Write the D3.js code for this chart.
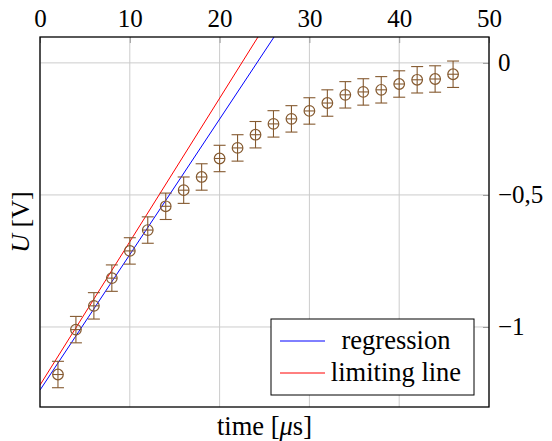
<!DOCTYPE html>
<html>
<head>
<meta charset="utf-8">
<script src="https://cdn.jsdelivr.net/npm/d3@7"></script>
</head>
<body style="margin:0">
<svg id="chart" width="552" height="441" font-family="Liberation Serif"></svg>
<script>
// measured points (time in us, voltage in V)
var times = [2, 4, 6, 8, 10, 12, 14, 16, 18, 20, 22, 24, 26, 28, 30, 32, 34, 36, 38, 40, 42, 44, 46];
var volts = [-1.18, -1.01, -0.92, -0.815, -0.712, -0.633, -0.543, -0.482, -0.432, -0.362, -0.322,
             -0.272, -0.231, -0.212, -0.182, -0.152, -0.121, -0.11, -0.102, -0.08, -0.064, -0.061, -0.043];
var errors = [0.05, 0.05, 0.05, 0.05, 0.05, 0.05, 0.05, 0.05, 0.05, 0.05, 0.05, 0.05,
              0.05, 0.05, 0.05, 0.05, 0.05, 0.05, 0.05, 0.05, 0.05, 0.05, 0.05];
// fit lines: intercept + slope * t
var regression = {intercept: -1.239, slope: 0.0513};
var limiting = {intercept: -1.22, slope: 0.0543};
var xTicks = [0, 10, 20, 30, 40, 50];
var yTicks = [-1, -0.5, 0];
var legendNames = ["regression", "limiting line"];
var legendColors = ["#0000ff", "#ff0000"];

var serif = "Liberation Serif";
var margin = {top: 37, right: 63, bottom: 34, left: 40};
var svg = d3.select("#chart");
var width = 552 - margin.left - margin.right;
var height = 441 - margin.top - margin.bottom;

var x = d3.scaleLinear().domain([0, 50]).range([0, width]);
var y = d3.scaleLinear().domain([-1.303, 0.098]).range([height, 0]);

var g = svg.append("g").attr("transform", "translate(" + margin.left + "," + margin.top + ")");

g.append("defs").append("clipPath").attr("id", "clip")
  .append("rect").attr("width", width).attr("height", height);

// grid
g.selectAll(".gx").data(xTicks).enter().append("line")
  .attr("x1", d => x(d)).attr("x2", d => x(d))
  .attr("y1", 0).attr("y2", height)
  .attr("stroke", "#cccccc").attr("stroke-width", 1);
g.selectAll(".gy").data(yTicks).enter().append("line")
  .attr("x1", 0).attr("x2", width)
  .attr("y1", d => y(d)).attr("y2", d => y(d))
  .attr("stroke", "#cccccc").attr("stroke-width", 1);

// axes (ticks inward)
var fmt = d => d3.format("")(d).replace("-", "\u2212").replace(".", ",");
var topAxis = g.append("g")
  .call(d3.axisTop(x).tickValues(xTicks).tickSize(-6).tickPadding(14).tickFormat(d3.format("d")));
var rightAxis = g.append("g").attr("transform", "translate(" + width + ",0)")
  .call(d3.axisRight(y).tickValues(yTicks).tickSize(-6).tickPadding(14).tickFormat(fmt));
[topAxis, rightAxis].forEach(function(a) {
  a.attr("font-family", serif).attr("font-size", 25);
  a.select(".domain").remove();
  a.selectAll(".tick line").attr("stroke", "#999999");
  a.selectAll(".tick text").attr("fill", "#000").attr("font-family", serif);
});
rightAxis.selectAll(".tick text").attr("x", 9);
topAxis.selectAll(".tick text").attr("y", -10);

// fit lines
var plot = g.append("g").attr("clip-path", "url(#clip)");
[regression, limiting].forEach(function(f, i) {
  plot.append("line")
    .attr("x1", x(0)).attr("y1", y(f.intercept))
    .attr("x2", x(50)).attr("y2", y(f.intercept + f.slope * 50))
    .attr("stroke", legendColors[i]).attr("stroke-width", 1);
});

// data with error bars
var brown = "#855a30";
var pts = plot.selectAll(".pt").data(times).enter().append("g")
  .attr("transform", (d, i) => "translate(" + x(d) + "," + y(volts[i]) + ")");
pts.append("line").attr("x1", 0).attr("x2", 0)
  .attr("y1", (d, i) => y(volts[i] + errors[i]) - y(volts[i]))
  .attr("y2", (d, i) => y(volts[i] - errors[i]) - y(volts[i]))
  .attr("stroke", brown).attr("stroke-width", 1.1);
[1, -1].forEach(function(s) {
  pts.append("line").attr("x1", -6).attr("x2", 6)
    .attr("y1", (d, i) => y(volts[i] + s * errors[i]) - y(volts[i]))
    .attr("y2", (d, i) => y(volts[i] + s * errors[i]) - y(volts[i]))
    .attr("stroke", brown).attr("stroke-width", 1.1);
});
pts.append("circle").attr("r", 5.3).attr("fill", "none").attr("stroke", brown).attr("stroke-width", 1.2);
pts.append("line").attr("x1", -5.3).attr("x2", 5.3).attr("y1", 0).attr("y2", 0)
  .attr("stroke", brown).attr("stroke-width", 1.1);

// frame
g.append("rect").attr("width", width).attr("height", height)
  .attr("fill", "none").attr("stroke", "#000").attr("stroke-width", 1.3);

// legend
var lg = g.append("g").attr("transform", "translate(" + (width - 218) + "," + (height - 88) + ")");
lg.append("rect").attr("width", 203).attr("height", 76)
  .attr("fill", "#fff").attr("stroke", "#000").attr("stroke-width", 1);
legendNames.forEach(function(n, i) {
  var cy = 22 + i * 32;
  lg.append("line").attr("x1", 9).attr("x2", 54).attr("y1", cy).attr("y2", cy)
    .attr("stroke", legendColors[i]).attr("stroke-width", 1);
  lg.append("text").attr("x", 125).attr("y", cy + 7.5).attr("text-anchor", "middle")
    .attr("font-size", 26.5).attr("font-family", serif).text(n);
});

// axis labels
svg.append("text").attr("x", margin.left + width / 2).attr("y", 435)
  .attr("text-anchor", "middle").attr("font-size", 26.5).attr("font-family", serif)
  .html("time [<tspan font-style='italic'>\u03bc</tspan>s]");
svg.append("text").attr("transform", "translate(29,222) rotate(-90)")
  .attr("text-anchor", "middle").attr("font-size", 26).attr("font-family", serif)
  .html("<tspan font-style='italic'>U</tspan> [V]");
</script>
</body>
</html>
